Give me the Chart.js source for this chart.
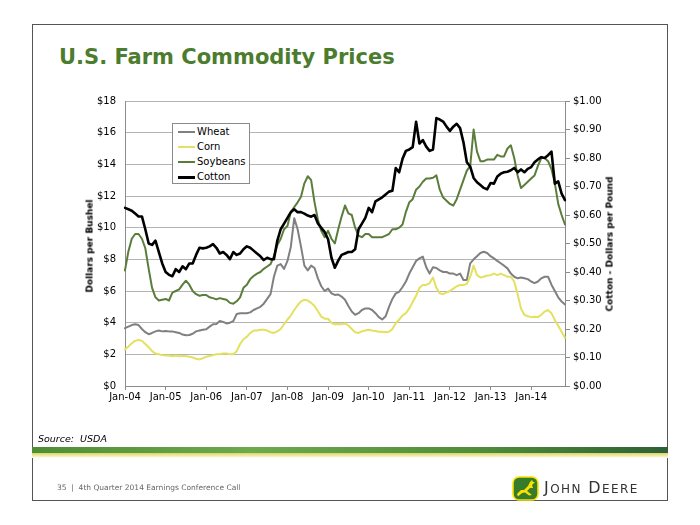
<!DOCTYPE html>
<html>
<head>
<meta charset="utf-8">
<script src="https://cdn.jsdelivr.net/npm/chart.js@4.4.1/dist/chart.umd.min.js"></script>
<style>
html,body{margin:0;padding:0;background:#fff;}
#wrap{position:relative;width:700px;height:525px;overflow:hidden;font-family:'DejaVu Sans',sans-serif;color:#000;}
#c{position:absolute;left:0;top:0;}
.abs{position:absolute;white-space:nowrap;}
.ytitle{font:bold 9px/11px 'DejaVu Sans',sans-serif;transform:translate(-50%,-50%) rotate(-90deg);}
#legend{left:172px;top:123px;width:78px;height:61px;border:1px solid #8a8a8a;background:#fff;box-sizing:border-box;}
#legend .ln{position:absolute;left:5px;width:17px;}
#legend .tx{position:absolute;left:24px;font:10px/12px 'DejaVu Sans',sans-serif;}
</style>
</head>
<body>
<div id="wrap">
  <div class="abs" style="left:32px;top:24px;width:636px;height:477px;border:1px solid #555;box-sizing:border-box;"></div>
  <div class="abs" style="left:59px;top:47px;font:bold 21px/21px 'DejaVu Sans',sans-serif;color:#4c7c2e;">U.S. Farm Commodity Prices</div>
  <canvas id="c" width="700" height="525"></canvas>
  <div class="abs ytitle" style="left:90px;top:246px;">Dollars per Bushel</div>
  <div class="abs ytitle" style="left:610px;top:244px;">Cotton - Dollars per Pound</div>
  <div id="legend" class="abs"></div>
  <div class="abs" style="left:38px;top:433px;font:italic 9.5px/12px 'DejaVu Sans',sans-serif;white-space:pre;">Source:  USDA</div>
  <div class="abs" style="left:32px;top:447px;width:636px;height:6px;background:linear-gradient(to right,#4f8d35 0%,#6ea94c 35%,#4f8d3a 70%,#2f6036 100%);"></div>
  <div class="abs" style="left:32px;top:453px;width:636px;height:5px;background:linear-gradient(to bottom,#d8d46a 0%,#efeca8 55%,#ffffff 100%);"></div>
  <div class="abs" style="left:57px;top:483px;font:7.5px/10px 'DejaVu Sans',sans-serif;color:#666;white-space:pre;">35  |  4th Quarter 2014 Earnings Conference Call</div>
  <svg class="abs" style="left:512px;top:476px;" width="27" height="25" viewBox="0 0 27 25">
    <rect x="1" y="1" width="25" height="23" rx="6" ry="6" fill="#367c2b" stroke="#fde100" stroke-width="1.6"/>
    <path d="M5 18 L9 14 L12 14 L16 10 L18 6 L20 4 L21 6 L23 6 L20 9 L21 12 L18 12 L15 15 L20 19 L17 19.5 L13 16.5 L10 17 L6 20.5 Z" fill="#fde100"/>
  </svg>
  <div class="abs" style="left:544px;top:479px;color:#333;letter-spacing:1.4px;font-family:'DejaVu Sans',sans-serif;line-height:18px;"><span style="font-size:16px">J</span><span style="font-size:12px">OHN</span> <span style="font-size:16px">D</span><span style="font-size:12px">EERE</span></div>
</div>
<script>
// ---- data ----
const monthNames = ['Jan','Feb','Mar','Apr','May','Jun','Jul','Aug','Sep','Oct','Nov','Dec'];
const yearLabels = ['04','05','06','07','08','09','10','11','12','13','14'];
const categories = [];
yearLabels.forEach(y => monthNames.forEach(m => categories.push(m + '-' + y)));
categories.length = 131; // Jan-04 .. Nov-14

const seriesNames = ['Wheat','Corn','Soybeans','Cotton'];

// Dollars per bushel
const wheat = [
  3.65,3.75,3.85,3.9,3.85,3.6,3.4,3.27,3.35,3.45,3.5,3.45,
  3.48,3.45,3.45,3.4,3.35,3.25,3.2,3.22,3.3,3.45,3.5,3.55,
  3.58,3.75,3.9,3.92,4.1,4.05,3.95,4.0,4.1,4.55,4.6,4.6,
  4.6,4.65,4.8,4.9,5.0,5.2,5.5,5.8,6.9,7.6,7.7,7.4,
  7.9,8.8,10.6,9.9,8.8,7.6,7.3,7.6,7.45,6.8,6.3,6.0,
  6.15,5.85,5.75,5.78,5.65,5.45,5.05,4.7,4.5,4.6,4.8,4.9,
  4.9,4.8,4.6,4.35,4.2,4.4,5.0,5.5,5.85,5.95,6.25,6.6,
  7.1,7.5,7.9,8.06,8.17,7.5,7.1,7.5,7.45,7.3,7.2,7.2,
  7.1,7.1,7.0,7.1,6.7,6.7,7.75,8.0,8.2,8.4,8.48,8.4,
  8.2,8.06,7.9,7.75,7.6,7.43,7.1,6.9,6.8,6.85,6.8,6.75,
  6.6,6.5,6.6,6.8,6.9,6.9,6.4,6.0,5.6,5.33,5.15
];
const corn = [
  2.3,2.5,2.7,2.85,2.9,2.85,2.65,2.45,2.2,2.05,2.0,1.95,
  1.92,1.92,1.88,1.92,1.88,1.9,1.9,1.85,1.8,1.72,1.68,1.75,
  1.85,1.9,1.95,2.0,2.0,2.05,2.05,2.0,2.0,2.2,2.65,2.95,
  3.1,3.35,3.5,3.5,3.55,3.55,3.5,3.4,3.35,3.45,3.6,3.9,
  4.2,4.45,4.8,5.1,5.35,5.45,5.4,5.25,5.05,4.72,4.38,4.25,
  4.25,3.98,3.9,3.92,3.9,3.95,3.82,3.6,3.4,3.35,3.45,3.5,
  3.55,3.5,3.47,3.43,3.43,3.4,3.43,3.6,3.95,4.2,4.45,4.6,
  4.9,5.3,5.7,6.2,6.38,6.38,6.5,6.85,6.2,5.85,5.8,5.9,
  6.0,6.15,6.3,6.38,6.38,6.45,6.9,7.6,7.0,6.85,6.9,6.98,
  7.0,7.1,7.0,7.1,7.0,6.9,6.9,6.6,5.8,4.9,4.5,4.4,
  4.35,4.38,4.35,4.5,4.7,4.8,4.6,4.17,3.8,3.43,3.05
];
const soybeans = [
  7.3,8.5,9.3,9.6,9.6,9.3,8.7,7.4,6.2,5.6,5.4,5.45,
  5.5,5.4,5.9,6.0,6.1,6.4,6.65,6.4,6.0,5.8,5.7,5.75,
  5.75,5.6,5.55,5.47,5.55,5.5,5.45,5.25,5.2,5.35,5.6,6.2,
  6.4,6.75,6.95,7.1,7.2,7.4,7.55,7.7,8.2,8.9,9.3,9.9,
  10.1,11.0,11.3,11.6,11.95,12.8,13.25,13.0,11.6,10.5,9.8,9.4,
  9.8,9.3,9.0,9.9,10.7,11.4,10.9,10.8,10.0,9.5,9.4,9.6,
  9.6,9.4,9.4,9.4,9.4,9.5,9.6,9.9,9.9,10.0,10.2,11.0,
  11.6,11.8,12.4,12.6,12.9,13.1,13.1,13.15,13.3,12.4,11.9,11.7,
  11.5,11.4,11.8,12.4,13.0,13.6,13.9,16.2,14.8,14.2,14.2,14.3,
  14.3,14.3,14.6,14.5,14.5,15.0,15.2,14.4,13.3,12.5,12.7,12.9,
  13.1,13.3,13.9,14.4,14.4,14.2,13.7,12.8,11.5,10.8,10.2
];
// Dollars per pound (right axis)
const cotton = [
  0.625,0.62,0.615,0.605,0.595,0.595,0.55,0.50,0.495,0.51,0.47,0.43,
  0.40,0.39,0.385,0.41,0.40,0.42,0.41,0.43,0.43,0.46,0.485,0.483,
  0.485,0.49,0.498,0.485,0.465,0.47,0.46,0.445,0.47,0.46,0.465,0.48,
  0.49,0.485,0.475,0.465,0.455,0.442,0.45,0.445,0.445,0.51,0.55,0.57,
  0.59,0.61,0.62,0.61,0.61,0.605,0.598,0.594,0.60,0.57,0.555,0.54,
  0.515,0.45,0.415,0.44,0.46,0.465,0.47,0.47,0.48,0.55,0.57,0.59,
  0.625,0.61,0.648,0.655,0.662,0.672,0.682,0.685,0.765,0.75,0.797,0.825,
  0.83,0.838,0.927,0.851,0.863,0.84,0.825,0.83,0.94,0.935,0.928,0.91,
  0.895,0.91,0.92,0.905,0.855,0.785,0.77,0.73,0.715,0.705,0.695,0.69,
  0.712,0.71,0.735,0.745,0.75,0.752,0.757,0.765,0.75,0.76,0.75,0.762,
  0.768,0.785,0.795,0.803,0.80,0.81,0.822,0.71,0.718,0.675,0.652
];
const leftTicks = {min:0, max:18, step:2};
const rightTicks = {min:0, max:1, step:0.1};

// ---- styles ----
const seriesColors = ['#808080','#e4e060','#5a7d3c','#000000'];
const seriesWidths = [2,2,2,2.6];
const FONT = "'DejaVu Sans', sans-serif";
const AXIS = '#8c8c8c';

const seriesData = [wheat, corn, soybeans, cotton];
const datasets = seriesNames.map((n,k)=>({
  label:n, data:seriesData[k], yAxisID: k===3 ? 'y2' : 'y',
  borderColor:seriesColors[k], backgroundColor:seriesColors[k],
  borderWidth:seriesWidths[k], order: 3-k
}));

new Chart(document.getElementById('c'), {
  type:'line',
  data:{labels:categories, datasets},
  options:{
    responsive:false, animation:false, devicePixelRatio:1,
    layout:{padding:{left:60,right:75,top:101,bottom:109}},
    elements:{point:{radius:0,hoverRadius:0}, line:{tension:0,fill:false,borderJoinStyle:'round',borderCapStyle:'round'}},
    plugins:{legend:{display:false}, tooltip:{enabled:false}},
    events:[],
    scales:{
      x:{
        type:'category',
        grid:{drawOnChartArea:false, drawTicks:true, tickLength:4,
              color:(c)=> (c.tick && c.tick.label) ? AXIS : 'rgba(0,0,0,0)'},
        border:{display:true, color:AXIS},
        ticks:{autoSkip:false, maxRotation:0, minRotation:0, padding:1, color:'#000',
               font:{family:FONT,size:10},
               callback:function(v){ const l=this.getLabelForValue(v); return l.indexOf('Jan')===0 ? l : ''; }},
        afterFit:(s)=>{ s.height=30; }
      },
      y:{
        position:'left', min:leftTicks.min, max:leftTicks.max,
        ticks:{stepSize:leftTicks.step, padding:9, color:'#000', font:{family:FONT,size:10},
               callback:(v)=>'$'+v},
        grid:{color:'#b4b4b4', drawTicks:false},
        border:{display:true, color:AXIS},
        afterFit:(s)=>{ s.width=65; }
      },
      y2:{
        position:'right', min:rightTicks.min, max:rightTicks.max,
        ticks:{stepSize:rightTicks.step, padding:3, color:'#000', font:{family:FONT,size:10},
               callback:(v)=>'$'+Number(v).toFixed(2)},
        grid:{drawOnChartArea:false, drawTicks:true, tickLength:5, color:AXIS},
        border:{display:true, color:AXIS},
        afterFit:(s)=>{ s.width=60; }
      }
    }
  }
});

// HTML legend from the series definitions
const legendEl = document.getElementById('legend');
const rowCenters = [7.7, 23, 38, 53];
seriesNames.forEach((n,k)=>{
  const ln = document.createElement('div');
  ln.className='ln';
  const h = seriesWidths[k] > 2 ? 3 : 2;
  ln.style.height = h+'px';
  ln.style.top = (rowCenters[k]-h/2)+'px';
  ln.style.background = seriesColors[k];
  legendEl.appendChild(ln);
  const tx = document.createElement('div');
  tx.className='tx';
  tx.style.top = (rowCenters[k]-6)+'px';
  tx.textContent = n;
  legendEl.appendChild(tx);
});
</script>
</body>
</html>
